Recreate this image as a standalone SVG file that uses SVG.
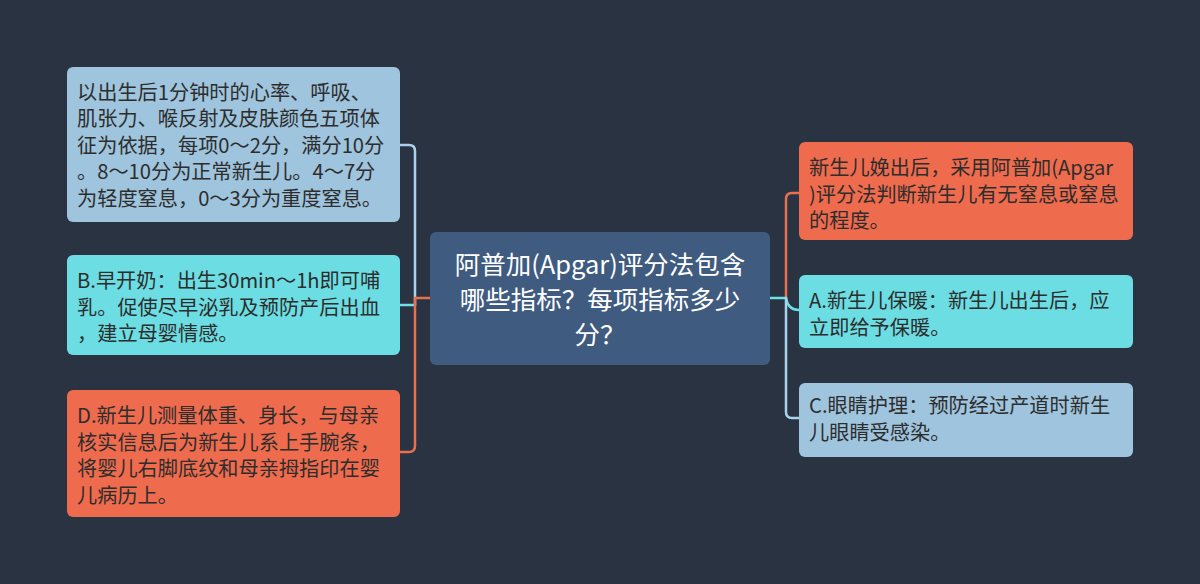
<svg xmlns="http://www.w3.org/2000/svg" width="1200" height="584" viewBox="0 0 1200 584">
<style>
.t{font-family:"Noto Sans CJK SC","Noto Sans",sans-serif;font-size:20.2px;fill:#2d2d2d}
.c{font-family:"Noto Sans CJK SC","Noto Sans",sans-serif;font-size:25.5px;fill:#ffffff;text-anchor:middle}
.ln{fill:none;stroke-width:2.5;stroke-linecap:round;stroke-linejoin:round}
.blue{fill:#9fc4dd}.cyan{fill:#6cdde3}.coral{fill:#ef6b4e}
</style>
<rect width="1200" height="584" fill="#2a3342"/>
<g id="connectors">
<path class="ln" stroke="#a9d2ee" d="M415,305 V151 Q415,145 409,145 H400"/>
<path class="ln" stroke="#6ee0e8" d="M415,305 H400"/>
<path class="ln" stroke="#e8704f" d="M430,298 H415 V446 Q415,452 409,452 H400"/>
<path class="ln" stroke="#e8704f" d="M786,298 V199 Q786,193 792,193 H799"/>
<path class="ln" stroke="#6ee0e8" d="M770,298 H786 Q788,310 799,310"/>
<path class="ln" stroke="#a9d2ee" d="M786,298 V412 Q786,418 792,418 H799"/>
</g>
<g id="center">
<rect x="430" y="232" width="340" height="133" rx="6" fill="#3f5b80"/>
<text class="c" x="600" y="274">阿普加(Apgar)评分法包含</text>
<text class="c" x="600" y="309">哪些指标？每项指标多少</text>
<text class="c" x="600" y="344">分？</text>
</g>
<g id="node-l1">
<rect class="blue" x="67" y="67" width="333" height="155" rx="6"/>
<text class="t" x="77" y="99.5">以出生后1分钟时的心率、呼吸、</text>
<text class="t" x="77" y="126">肌张力、喉反射及皮肤颜色五项体</text>
<text class="t" x="77" y="152.5">征为依据，每项0～2分，满分10分</text>
<text class="t" x="77" y="179">。8～10分为正常新生儿。4～7分</text>
<text class="t" x="77" y="205.5">为轻度窒息，0～3分为重度窒息。</text>
</g>
<g id="node-l2">
<rect class="cyan" x="67" y="255" width="333" height="100" rx="6"/>
<text class="t" x="77" y="288">B.早开奶：出生30min～1h即可哺</text>
<text class="t" x="77" y="314.5">乳。促使尽早泌乳及预防产后出血</text>
<text class="t" x="77" y="341">，建立母婴情感。</text>
</g>
<g id="node-l3">
<rect class="coral" x="67" y="390" width="333" height="127" rx="6"/>
<text class="t" x="77" y="423">D.新生儿测量体重、身长，与母亲</text>
<text class="t" x="77" y="449.5">核实信息后为新生儿系上手腕条，</text>
<text class="t" x="77" y="476">将婴儿右脚底纹和母亲拇指印在婴</text>
<text class="t" x="77" y="502.5">儿病历上。</text>
</g>
<g id="node-r1">
<rect class="coral" x="799" y="142" width="334" height="98" rx="6"/>
<text class="t" x="809" y="175">新生儿娩出后，采用阿普加(Apgar</text>
<text class="t" x="809" y="201.5">)评分法判断新生儿有无窒息或窒息</text>
<text class="t" x="809" y="228">的程度。</text>
</g>
<g id="node-r2">
<rect class="cyan" x="799" y="275" width="334" height="73" rx="6"/>
<text class="t" x="809" y="308">A.新生儿保暖：新生儿出生后，应</text>
<text class="t" x="809" y="334.5">立即给予保暖。</text>
</g>
<g id="node-r3">
<rect class="blue" x="799" y="383" width="334" height="74" rx="6"/>
<text class="t" x="809" y="413">C.眼睛护理：预防经过产道时新生</text>
<text class="t" x="809" y="440">儿眼睛受感染。</text>
</g>
</svg>
